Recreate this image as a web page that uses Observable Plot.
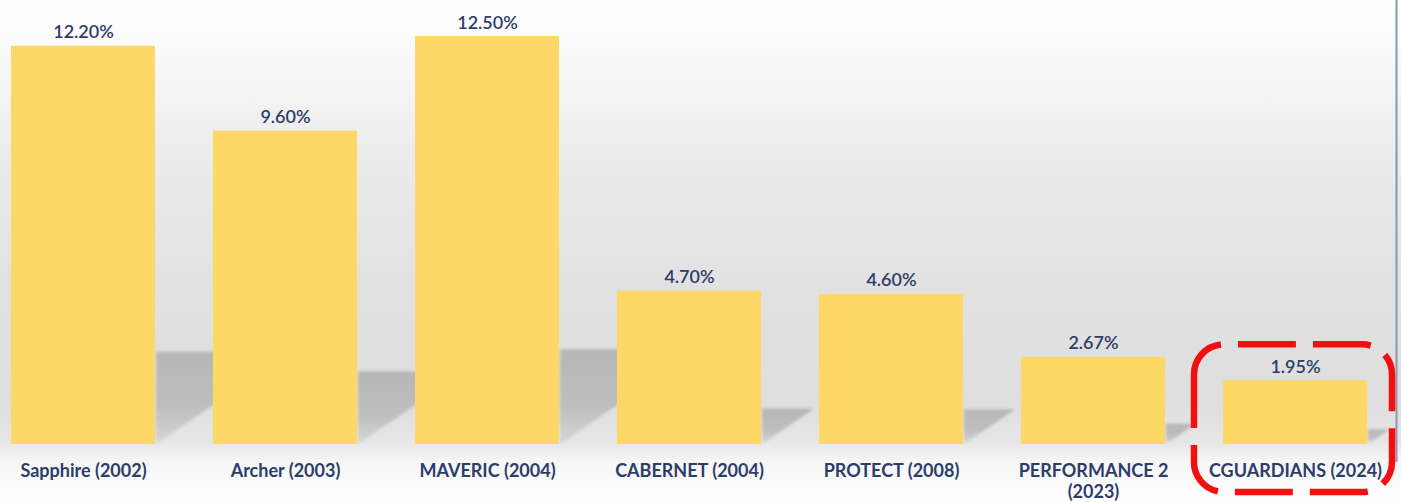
<!DOCTYPE html>
<html>
<head>
<meta charset="utf-8">
<script src="https://cdn.jsdelivr.net/npm/d3@7"></script>
<script src="https://cdn.jsdelivr.net/npm/@observablehq/plot@0.6"></script>
<style>
  html, body { margin: 0; padding: 0; background: #fff; }
  #chart svg { display: block; }
</style>
</head>
<body>
<div id="chart"></div>
<script>
// ---- data ----
const categories = ["Sapphire (2002)", "Archer (2003)", "MAVERIC (2004)", "CABERNET (2004)", "PROTECT (2008)", "PERFORMANCE 2\n(2023)", "CGUARDIANS (2024)"];
const values = [12.20, 9.60, 12.50, 4.70, 4.60, 2.67, 1.95];
const valueLabels = ["12.20%", "9.60%", "12.50%", "4.70%", "4.60%", "2.67%", "1.95%"];
const highlighted = "CGUARDIANS (2024)";

const data = categories.map((c, i) => ({cat: c, value: values[i], label: valueLabels[i]}));

const PAD_INNER = 0.287;
const textColor = "#2c3d69";

function bandInfo(scales, dims) {
  const sx = scales.x;
  let bw;
  if (sx && typeof sx.bandwidth === "function") bw = sx.bandwidth();
  else {
    const step = (dims.width - dims.marginLeft - dims.marginRight) / (categories.length - PAD_INNER);
    bw = step * (1 - PAD_INNER);
  }
  return {sx, bw};
}

// background gradient
function backgroundMark(index, scales, values, dims) {
  const g = d3.create("svg:g");
  const defs = g.append("defs");
  const lg = defs.append("linearGradient").attr("id", "bgGrad").attr("x1", 0).attr("y1", 0).attr("x2", 0).attr("y2", 1);
  [[0, "#ffffff"], [0.08, "#fbfbfb"], [0.3, "#ececec"], [0.55, "#e2e2e2"], [0.8, "#dedede"], [0.88, "#e6e6e6"], [0.92, "#f6f6f6"], [1, "#ffffff"]]
    .forEach(([o, c]) => lg.append("stop").attr("offset", o).attr("stop-color", c));
  g.append("rect").attr("x", 0).attr("y", 0).attr("width", dims.width).attr("height", dims.height).attr("fill", "url(#bgGrad)");
  // right frame line
  g.append("line").attr("x1", dims.width - 4.5).attr("x2", dims.width - 4.5)
    .attr("y1", 0).attr("y2", dims.height - 40).attr("stroke", "#8c98a6").attr("stroke-width", 2);
  return g.node();
}

// perspective shadows behind bars
function shadowMark(index, scales, vals, dims) {
  const {sx, bw} = bandInfo(scales, dims);
  const sy = scales.y;
  const base = sy(0);
  const g = d3.create("svg:g");
  const defs = g.append("defs");
  const lg = defs.append("linearGradient").attr("id", "shGrad").attr("x1", 0).attr("y1", 0).attr("x2", 0).attr("y2", 1);
  lg.append("stop").attr("offset", 0).attr("stop-color", "#b6b6b6");
  lg.append("stop").attr("offset", 0.6).attr("stop-color", "#bebebe");
  lg.append("stop").attr("offset", 1).attr("stop-color", "#d6d6d6");
  defs.append("filter").attr("id", "shBlur").attr("x", "-20%").attr("y", "-20%").attr("width", "140%").attr("height", "140%")
    .append("feGaussianBlur").attr("stdDeviation", 1.8);
  const slope = 0.68;
  data.forEach(d => {
    const xr = sx(d.cat) + bw + 1;
    const top = base - (base - sy(d.value)) * 0.232;
    const h = base - top;
    const w = h / slope;
    g.append("path")
      .attr("d", `M${xr},${base} L${xr},${top} L${xr + w},${top} Z`)
      .attr("fill", "url(#shGrad)")
      .attr("filter", "url(#shBlur)");
  });
  return g.node();
}

// red dashed highlight box
function highlightMark(index, scales, vals, dims) {
  const {sx, bw} = bandInfo(scales, dims);
  const sy = scales.y;
  const d = data.find(e => e.cat === highlighted);
  const x0 = sx(d.cat) - 29, x1 = sx(d.cat) + bw + 25;
  const y0 = sy(d.value) - 36, y1 = dims.height - 10;
  const r = 30;
  const g = d3.create("svg:g");
  const p = `M${x0},${y0 + r} A${r},${r} 0 0 1 ${x0 + r},${y0} L${x1 - r},${y0} A${r},${r} 0 0 1 ${x1},${y0 + r} L${x1},${y1 - r} A${r},${r} 0 0 1 ${x1 - r},${y1} L${x0 + r},${y1} A${r},${r} 0 0 1 ${x0},${y1 - r} Z`;
  g.append("path").attr("d", p).attr("fill", "none").attr("stroke", "#f01010").attr("stroke-width", 6.5)
    .attr("stroke-dasharray", "58 17").attr("stroke-dashoffset", 14).attr("stroke-linecap", "butt");
  return g.node();
}

const chart = Plot.plot({
  width: 1401,
  height: 502,
  marginTop: 36,
  marginBottom: 58,
  marginLeft: 11,
  marginRight: 34,
  style: {fontFamily: "Lato, 'Open Sans', sans-serif", background: "transparent", overflow: "visible"},
  x: {domain: categories, paddingInner: PAD_INNER, paddingOuter: 0, round: false, axis: null},
  y: {domain: [0, 12.5], axis: null},
  marks: [
    backgroundMark,
    shadowMark,
    Plot.barY(data, {x: "cat", y: "value", fill: "#fed866"}),
    Plot.text(data, {x: "cat", y: "value", text: "label", lineAnchor: "bottom", dy: -8, fill: textColor, fontSize: 18, fontWeight: 600}),
    Plot.text(data, {x: "cat", text: "cat", frameAnchor: "bottom", lineAnchor: "top", dy: 17, lineHeight: 1.18, fill: textColor, fontSize: 18, fontWeight: 700}),
    highlightMark
  ]
});
document.getElementById("chart").appendChild(chart);
</script>
</body>
</html>
